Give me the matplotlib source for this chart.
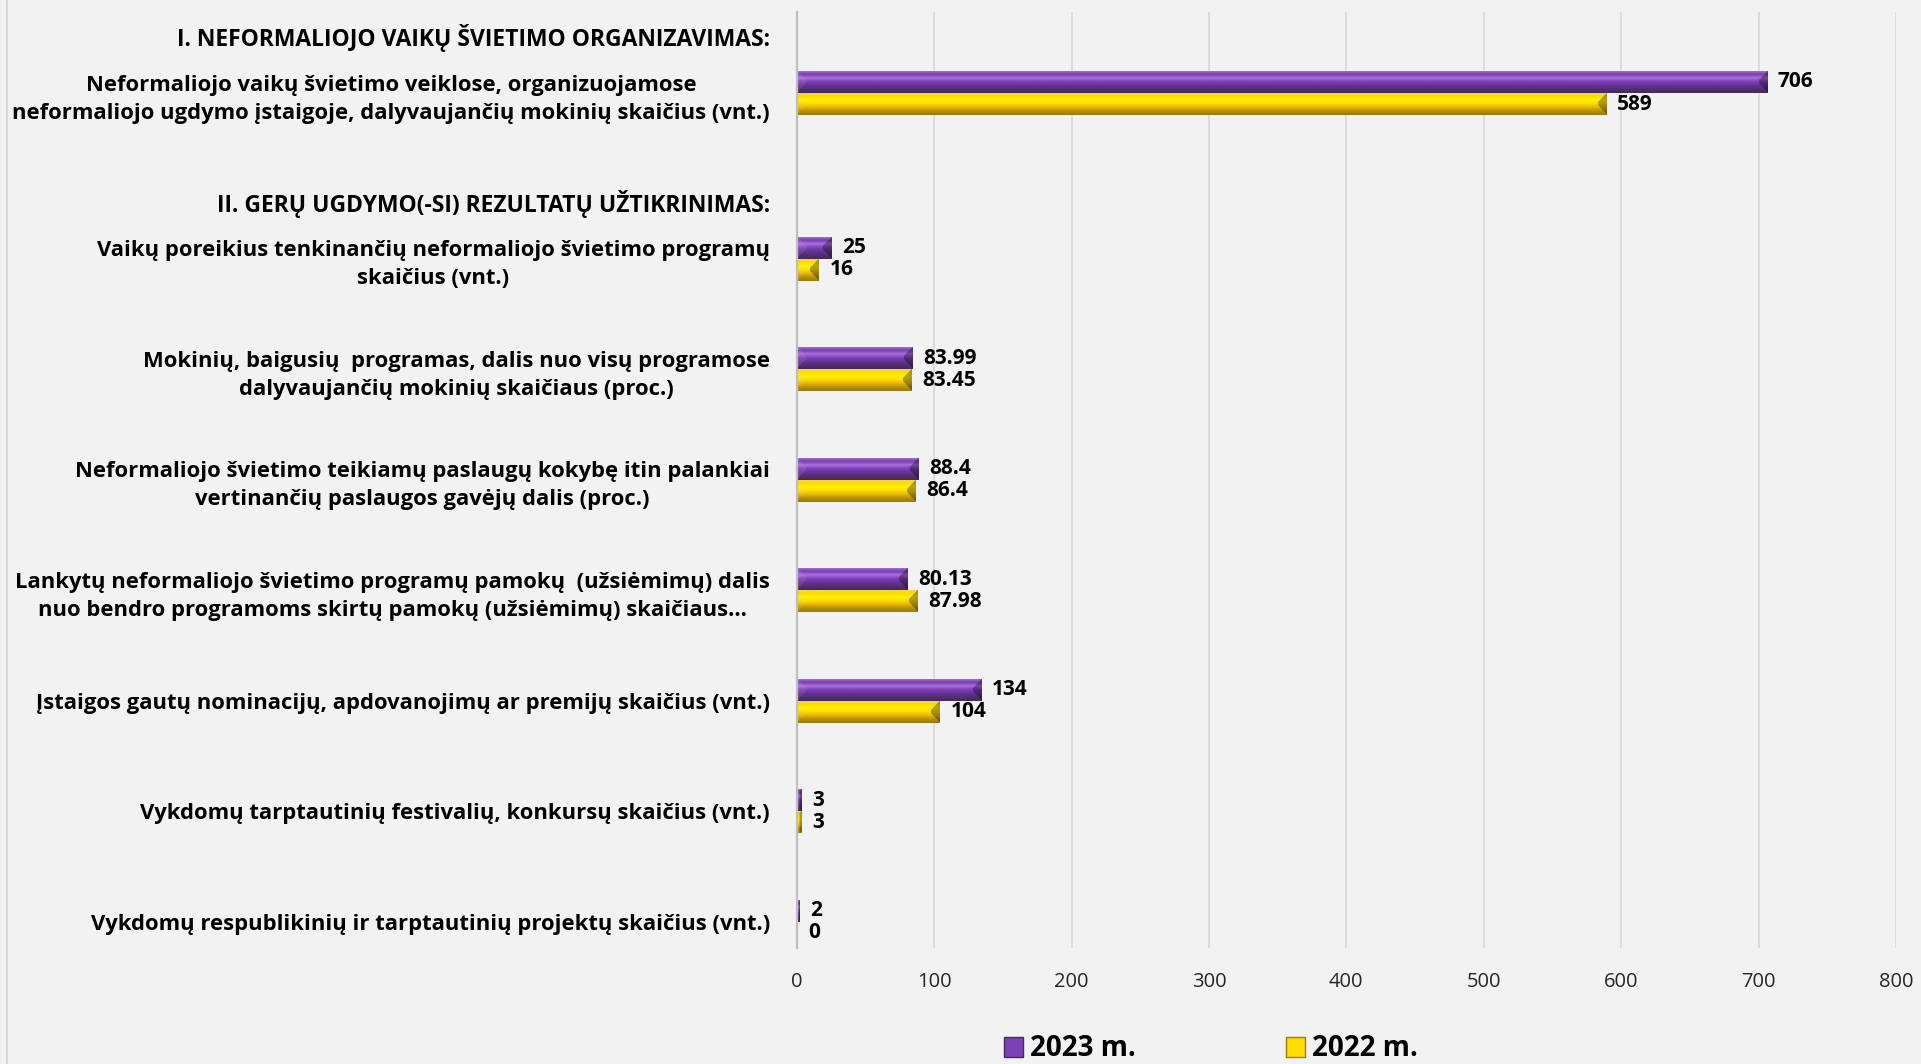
import numpy as np
import matplotlib
matplotlib.use("Agg")
import matplotlib.pyplot as plt
from matplotlib.colors import LinearSegmentedColormap
from matplotlib.patches import Patch
from matplotlib.lines import Line2D

# ---------------- data ----------------
headers = [
    "I. NEFORMALIOJO VAIKŲ ŠVIETIMO ORGANIZAVIMAS:",
    "II. GERŲ UGDYMO(-SI) REZULTATŲ UŽTIKRINIMAS:",
]
categories = [
    "Neformaliojo vaikų švietimo veiklose, organizuojamose\nneformaliojo ugdymo įstaigoje, dalyvaujančių mokinių skaičius (vnt.)",
    "Vaikų poreikius tenkinančių neformaliojo švietimo programų\nskaičius (vnt.)",
    "Mokinių, baigusių  programas, dalis nuo visų programose\ndalyvaujančių mokinių skaičiaus (proc.)",
    "Neformaliojo švietimo teikiamų paslaugų kokybę itin palankiai\nvertinančių paslaugos gavėjų dalis (proc.)",
    "Lankytų neformaliojo švietimo programų pamokų  (užsiėmimų) dalis\nnuo bendro programoms skirtų pamokų (užsiėmimų) skaičiaus...",
    "Įstaigos gautų nominacijų, apdovanojimų ar premijų skaičius (vnt.)",
    "Vykdomų tarptautinių festivalių, konkursų skaičius (vnt.)",
    "Vykdomų respublikinių ir tarptautinių projektų skaičius (vnt.)",
]
series_names = ["2023 m.", "2022 m."]
values_2023 = [706, 25, 83.99, 88.4, 80.13, 134, 3, 2]
values_2022 = [589, 16, 83.45, 86.4, 87.98, 104, 3, 0]
x_ticks = [0, 100, 200, 300, 400, 500, 600, 700, 800]

# layout positions (category slots; first section sits higher)
cat_pos = np.array([0, 1.5, 2.5, 3.5, 4.5, 5.5, 6.5, 7.5])
header_pos = [-0.5, 1.0]

FONT = "Open Sans"
BG = "#F2F2F2"
purple_stops = ["#a47bd0", "#7a3bb2", "#a870dc", "#7e40b6", "#6a30a0", "#52306e", "#47295e"]
yellow_stops = ["#f3d45e", "#ffd900", "#fff200", "#ffdc00", "#e8b900", "#b89200", "#9c7c12"]

fig = plt.figure(figsize=(19.21, 10.64), dpi=100, facecolor=BG)
ax = fig.add_axes([796.7 / 1921, 1 - 948 / 1064, (1896 - 796.7) / 1921, (948 - 12) / 1064])
ax.set_facecolor(BG)

bh = 0.2
bars23 = ax.barh(cat_pos - bh / 2, values_2023, height=bh, color=purple_stops[3], zorder=2)
bars22 = ax.barh(cat_pos + bh / 2, values_2022, height=bh, color=yellow_stops[3], zorder=2)

ax.set_xlim(0, 800)
ax.set_ylim(7.5 + 0.237, -0.733)


def bevel(patch, stops):
    x0, y0 = patch.get_x(), patch.get_y()
    w, h = patch.get_width(), patch.get_height()
    if w <= 0:
        return
    p0 = ax.transData.transform((x0, y0))
    p1 = ax.transData.transform((x0 + w, y0 + h))
    pw = max(int(round(abs(p1[0] - p0[0]))), 1)
    ph = max(int(round(abs(p1[1] - p0[1]))), 2)
    cmap = LinearSegmentedColormap.from_list("g", stops)
    col = cmap(np.linspace(0, 1, ph))[:, :3]
    img = np.repeat(col[:, None, :], pw, axis=1).copy()
    rr, cc = np.mgrid[0:ph, 0:pw]
    dt = rr + 0.5
    db = ph - rr - 0.5
    dl = cc + 0.5
    dr = pw - cc - 0.5
    b = min(9.0, pw / 2.0)
    vert = np.minimum(dt, db)
    right = (dr < b) & (dr < vert)
    left = (dl < b) & (dl < vert)
    img[right] = img[right] * 0.68
    img[left] = img[left] * 0.88 + 0.1
    im = ax.imshow(img, extent=(x0, x0 + w, y0 + h, y0), origin="upper",
                   aspect="auto", interpolation="bilinear", zorder=3)
    im.set_clip_path(patch)


for p in bars23:
    bevel(p, purple_stops)
for p in bars22:
    bevel(p, yellow_stops)

ax.set_xlim(0, 800)
ax.set_ylim(7.5 + 0.237, -0.733)
ax.set_aspect("auto")

# data labels
ax.bar_label(bars23, fmt="{:g}", padding=8, fontsize=15, fontweight="bold",
             family=FONT, color="black", zorder=5)
ax.bar_label(bars22, fmt="{:g}", padding=8, fontsize=15, fontweight="bold",
             family=FONT, color="black", zorder=5)

# axes styling
ax.set_xticks(x_ticks)
ax.set_xticklabels([str(t) for t in x_ticks], family=FONT, fontsize=14.5, color="#262626")
ax.tick_params(axis="x", length=0, pad=17)
ax.set_yticks(cat_pos)
ax.set_yticklabels(categories, family=FONT, fontsize=15.8, fontweight="bold",
                   color="black", multialignment="center", linespacing=1.45)
ax.tick_params(axis="y", length=0, pad=19.4)
ax.grid(axis="x", color="#DADADA", linewidth=1.3)
ax.set_axisbelow(True)
for s in ["top", "right", "bottom"]:
    ax.spines[s].set_visible(False)
ax.spines["left"].set_color("#BFBFBF")
ax.spines["left"].set_linewidth(1.6)
ax.spines["left"].set_zorder(4)

for txt, yp in zip(headers, header_pos):
    ax.annotate(txt, xy=(0, yp), xycoords=("axes fraction", "data"),
                xytext=(-19.4, 0), textcoords="offset points",
                ha="right", va="center", family=FONT, fontsize=16.5,
                fontweight="bold", color="black")

# left chart border
fig.add_artist(Line2D([6.5 / 1921, 6.5 / 1921], [0, 1], transform=fig.transFigure,
                      color="#D9D9D9", linewidth=1.5))

handles = [Patch(facecolor=purple_stops[3], edgecolor="#47295e"),
           Patch(facecolor=yellow_stops[3], edgecolor="#9c7c12")]
fig.legend(handles, series_names, loc="center", bbox_to_anchor=(1211 / 1921, 1 - 1049 / 1064),
           ncol=2, frameon=False, prop={"family": FONT, "weight": "bold", "size": 20},
           handlelength=0.7, handleheight=0.7, handletextpad=0.25, columnspacing=5.4)

fig.savefig("out.png", dpi=100, facecolor=BG)
